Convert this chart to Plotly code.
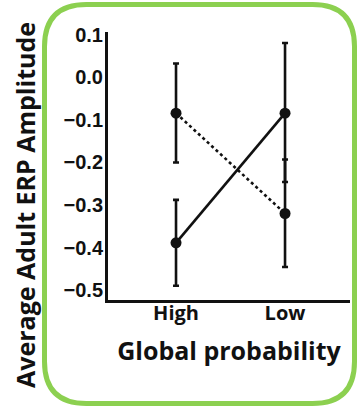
import plotly.graph_objects as go

categories = ["High", "Low"]
solid_mean = [-0.389, -0.084]
solid_err_plus = [0.101, 0.165]
solid_err_minus = [0.101, 0.162]
dotted_mean = [-0.084, -0.320]
dotted_err_plus = [0.117, 0.127]
dotted_err_minus = [0.116, 0.126]
y_ticks = [0.1, 0.0, -0.1, -0.2, -0.3, -0.4, -0.5]
y_tick_labels = ["0.1", "0.0", "\u22120.1", "\u22120.2", "\u22120.3", "\u22120.4", "\u22120.5"]

xpos = list(range(len(categories)))

W, H = 359, 410
L, R, T, B = 108, 9, 32, 110
pw, ph = W - L - R, H - T - B

def px(x):
    return (x - L) / pw

def py(y):
    return 1 - (y - T) / ph

fig = go.Figure()

fig.add_trace(go.Scatter(
    x=xpos, y=solid_mean, mode="lines+markers",
    line=dict(color="#111111", width=2.6),
    marker=dict(color="#111111", size=11),
    error_y=dict(type="data", symmetric=False, array=solid_err_plus,
                 arrayminus=solid_err_minus, color="#111111", thickness=2.6, width=3),
    showlegend=False, cliponaxis=False,
))
fig.add_trace(go.Scatter(
    x=xpos, y=dotted_mean, mode="lines+markers",
    line=dict(color="#111111", width=2.6, dash="dot"),
    marker=dict(color="#111111", size=11),
    error_y=dict(type="data", symmetric=False, array=dotted_err_plus,
                 arrayminus=dotted_err_minus, color="#111111", thickness=2.6, width=3),
    showlegend=False, cliponaxis=False,
))

# green rounded frame
x0, x1, y0, y1, r = 44.5, 354.5, 4.5, 403.5, 42
path = (f"M {px(x0+r)},{py(y0)} L {px(x1-r)},{py(y0)} "
        f"Q {px(x1)},{py(y0)} {px(x1)},{py(y0+r)} "
        f"L {px(x1)},{py(y1-r)} Q {px(x1)},{py(y1)} {px(x1-r)},{py(y1)} "
        f"L {px(x0+r)},{py(y1)} Q {px(x0)},{py(y1)} {px(x0)},{py(y1-r)} "
        f"L {px(x0)},{py(y0+r)} Q {px(x0)},{py(y0)} {px(x0+r)},{py(y0)} Z")
fig.add_shape(type="path", xref="paper", yref="paper", path=path,
              line=dict(color="#8cd050", width=5), layer="below")

fig.update_layout(
    width=W, height=H,
    margin=dict(l=L, r=R, t=T, b=B, autoexpand=False),
    paper_bgcolor="white", plot_bgcolor="white",
    xaxis=dict(range=[-0.624, 1.596], tickvals=xpos, ticktext=categories,
               showgrid=False, zeroline=False, showline=True, linecolor="#111111",
               linewidth=3, ticks="", ticklabelstandoff=-7, automargin=False,
               tickfont=dict(family="Open Sans", size=20, color="#111111", weight="bold"),
               title=dict(text="Global probability", standoff=18,
                          font=dict(family="Open Sans", size=25, color="#111111", weight="bold"))),
    yaxis=dict(range=[-0.5235, 0.107], tickvals=y_ticks, ticktext=y_tick_labels,
               showgrid=False, zeroline=False, showline=True, linecolor="#111111",
               linewidth=3, ticks="", ticklabelstandoff=-2, automargin=False,
               tickfont=dict(family="Liberation Sans", size=20, color="#111111", weight="bold")),
    annotations=[dict(text="Average Adult ERP Amplitude", xref="paper", yref="paper",
                      x=px(25), y=py(205), textangle=-90, showarrow=False,
                      font=dict(family="Open Sans", size=25, color="#111111", weight="bold"),
                      xanchor="center", yanchor="middle")],
)

fig.write_html("out.html", config={"displayModeBar": False},
               post_script="document.body.style.margin='0';")
